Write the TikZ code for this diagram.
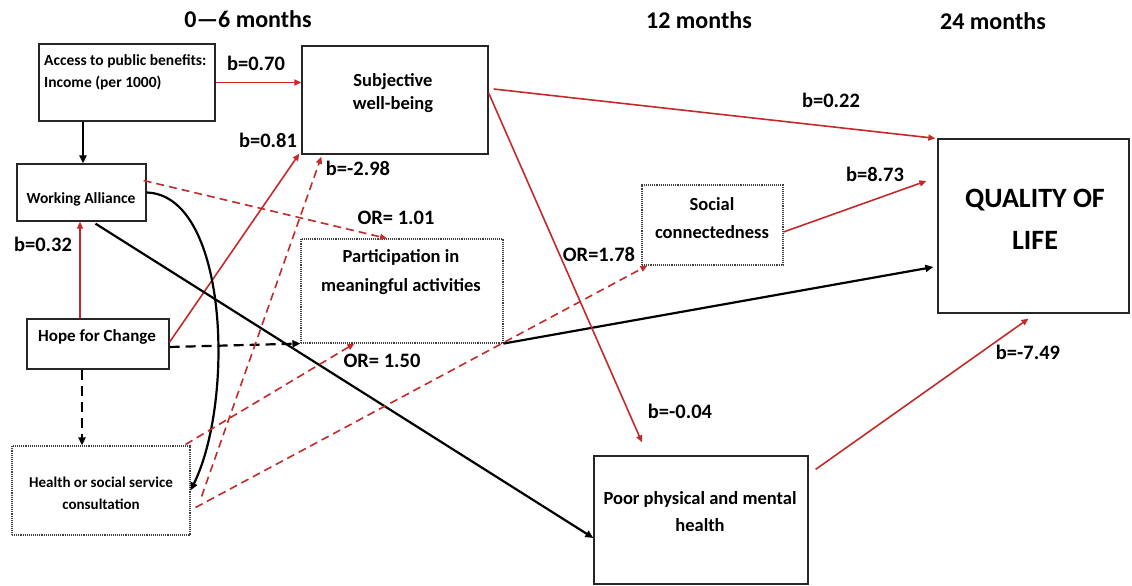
\documentclass[tikz,border=0pt]{standalone}
\usepackage{fontspec}
\setmainfont{Carlito}
\usetikzlibrary{calc,arrows.meta}
\definecolor{pathred}{RGB}{196,42,42}

\tikzset{
  boxtxt/.style n args={2}{font=\fontsize{#1}{#2}\selectfont\bfseries, align=center, inner sep=0pt},
}

\begin{document}
\begin{tikzpicture}[x=1pt,y=-1pt,
  solidbox/.style={draw=black!85, line width=1.3pt, inner sep=0pt},
  dotbox/.style={draw=black!75, densely dotted, line width=1.1pt, inner sep=0pt},
  heading/.style={font=\fontsize{24}{28}\selectfont\bfseries, inner sep=0pt},
  coef/.style={font=\fontsize{20.5}{23}\selectfont\bfseries, inner sep=0pt},
  redpath/.style={draw=pathred, line width=1.6pt, -{Triangle[length=7pt,width=6pt]}},
  redpathdash/.style={redpath, dash pattern=on 8pt off 5pt},
  blkpath/.style={draw=black, line width=2.2pt, -{Triangle[length=8pt,width=7pt]}},
  blkpathdash/.style={blkpath, dash pattern=on 10pt off 6pt},
]
\useasboundingbox (0,0) rectangle (1132,586);

% time points
\node[heading] (t06) at (248,19) {0—6 months};
\node[heading] (t12) at (699,20) {12 months};
\node[heading] (t24) at (993,21) {24 months};

% boxes (centre, width, height from the figure)
\node[solidbox, minimum width=176, minimum height=77] (acc) at (127,82.5) {};
\node[solidbox, minimum width=186, minimum height=108] (swb) at (395,100) {};
\node[solidbox, minimum width=129, minimum height=57] (wa) at (81.5,192.5) {};
\node[dotbox, minimum width=202, minimum height=104] (part) at (402,291) {};
\node[solidbox, minimum width=142, minimum height=50] (hope) at (98,344) {};
\node[dotbox, minimum width=178, minimum height=89] (hss) at (101,490.5) {};
\node[dotbox, minimum width=141, minimum height=80] (soc) at (712.5,225) {};
\node[solidbox, minimum width=214, minimum height=128] (poor) at (701,520) {};
\node[solidbox, minimum width=191, minimum height=174] (qol) at (1033.5,226) {};

% box texts
\node[boxtxt={15.5}{22}, anchor=west, align=left] (acc-txt) at (44,72) {Access to public benefits:\\Income (per 1000)};
\node[boxtxt={18.5}{23}] (swb-txt) at (393,93) {Subjective\\well-being};
\node[boxtxt={15.5}{18}] (wa-txt) at (81,199) {Working Alliance};
\node[boxtxt={18.5}{29}] (part-txt) at (401,272) {Participation in\\meaningful activities};
\node[boxtxt={17}{20}] (hope-txt) at (97,337) {Hope for Change};
\node[boxtxt={15}{22}] (hss-txt) at (101,493) {Health or social service\\consultation};
\node[boxtxt={18.5}{28}] (soc-txt) at (712,218) {Social\\connectedness};
\node[boxtxt={18.5}{27}] (poor-txt) at (700,512) {Poor physical and mental\\health};
\node[boxtxt={28}{42}] (qol-txt) at (1035,219) {QUALITY OF\\LIFE};

% ends of the vertical paths
\coordinate (wa-in) at ($(wa.north)+(1.5,0)$);
\coordinate (wa-out) at ($(wa.south)+(-1.5,0)$);
\coordinate (hope-down) at ($(hope.south)+(-16,0)$);

% paths
\draw[redpath] (acc.east) -- (acc.east -| swb.west);
\draw[blkpath, line width=2.8pt] (wa-in |- acc.south) -- (wa-in);
\draw[redpath] (wa-out |- hope.north) -- (wa-out);
\draw[redpath] ($(hope.east)+(0,-2)$) -- ($(swb.south west)+(-2,-1)$);
\draw[redpathdash] ($(wa.east)+(-3,-12)$) -- ($(part.north)+(-15,0)$);
\draw[blkpath] (wa.east) .. controls (228,195) and (235,400) .. (hss.east);
\draw[blkpath] ($(wa.south)+(14,2)$) -- ($(poor.west)+(0,18)$);
\draw[blkpathdash] ($(hope.east)+(0,3)$) -- (part.south west);
\draw[blkpathdash] (hope-down) -- (hope-down |- hss.north);
\draw[redpathdash] ($(hss.east)+(11,6)$) -- ($(swb.south west)+(20,2)$);
\draw[redpathdash] ($(hss.north east)+(-5,-1)$) -- ($(part.south west)+(54,0)$);
\draw[redpathdash] ($(hss.east)+(5,17)$) -- ($(soc.south west)+(6,0)$);
\draw[blkpath] (part.south east) -- ($(qol.west)+(-4,41)$);
\draw[redpath] ($(swb.east)+(0,-7)$) -- ($(poor.north)+(-59,-13)$);
\draw[redpath] ($(swb.east)+(5,-11)$) -- ($(qol.north west)+(-2,0)$);
\draw[redpath] ($(soc.east)+(0,7)$) -- ($(qol.west)+(-11,-45)$);
\draw[redpath] ($(poor.north east)+(7,14)$) -- ($(qol.south)+(-5,5)$);

% coefficients
\node[coef] (c-acc) at (256,63) {b=0.70};
\node[coef] (c-hope) at (268,140) {b=0.81};
\node[coef] (c-hss) at (358,168) {b=-2.98};
\node[coef] (c-wa) at (396,218) {OR= 1.01};
\node[coef] (c-hopewa) at (43,244) {b=0.32};
\node[coef] (c-soc) at (599,254) {OR=1.78};
\node[coef] (c-part) at (382,361) {OR= 1.50};
\node[coef] (c-poor) at (680,411) {b=-0.04};
\node[coef] (c-swb) at (831,100) {b=0.22};
\node[coef] (c-socqol) at (875,174) {b=8.73};
\node[coef] (c-poorqol) at (1028,352) {b=-7.49};
\end{tikzpicture}
\end{document}
